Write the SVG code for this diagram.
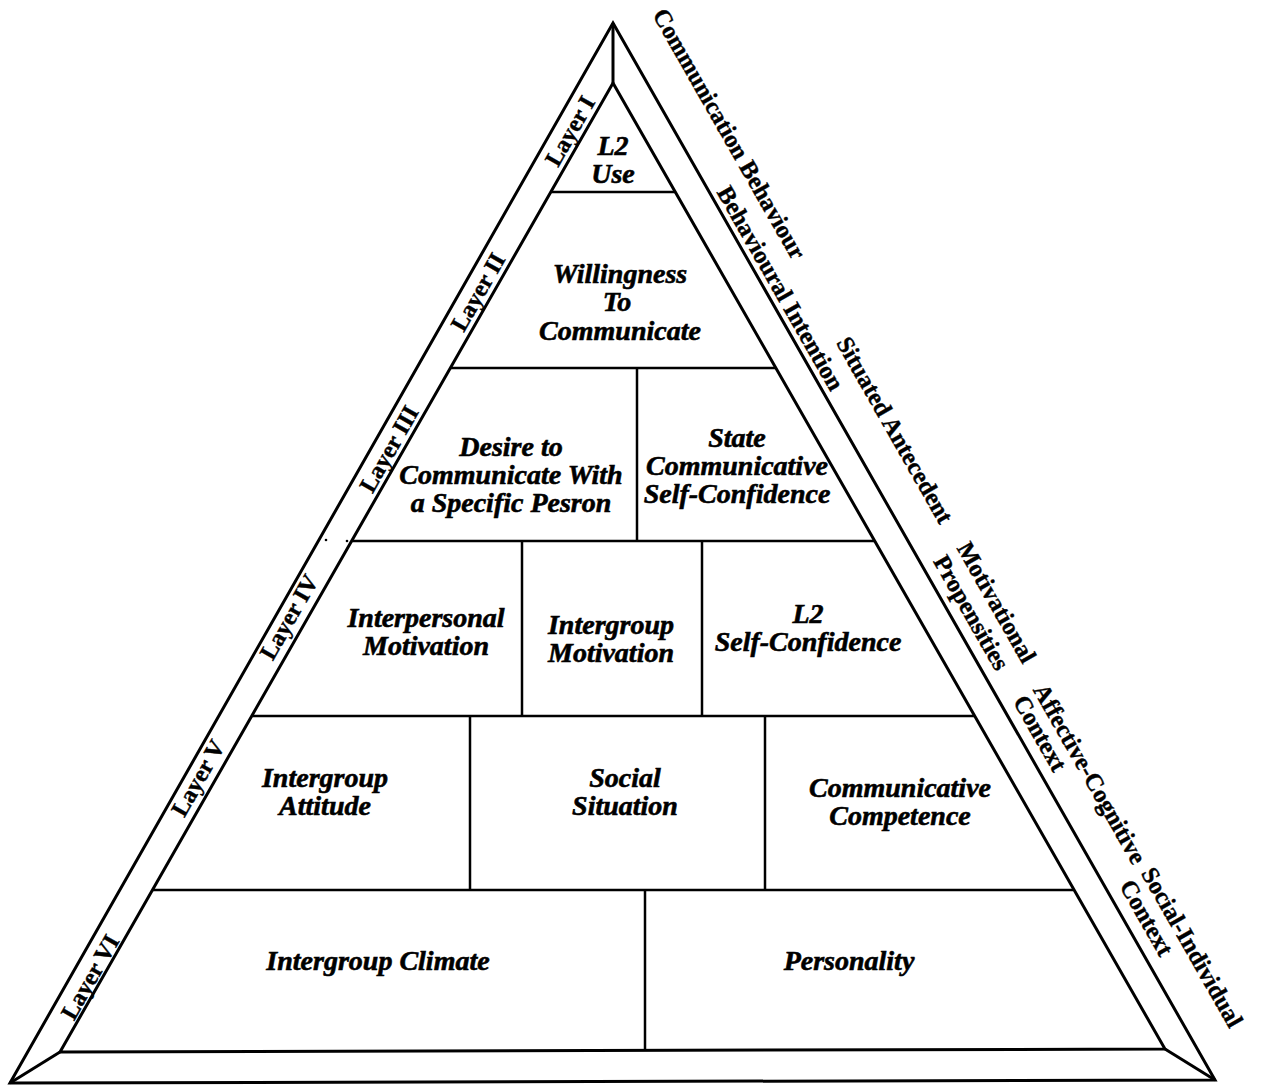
<svg xmlns="http://www.w3.org/2000/svg" width="1265" height="1086" viewBox="0 0 1265 1086">
  <style>
    .frame { fill: none; stroke: #000; stroke-width: 3; stroke-linejoin: miter; }
    .div { fill: none; stroke: #000; stroke-width: 2.5; }
    .node { font-family: "Liberation Serif", "Times New Roman", serif; font-weight: bold; font-style: italic; font-size: 28px; text-anchor: middle; fill: #000; stroke: #000; stroke-width: 0.6; }
    .layer { font-family: "Liberation Serif", "Times New Roman", serif; font-weight: bold; font-size: 24px; text-anchor: middle; fill: #000; stroke: #000; stroke-width: 0.4; }
    .side { font-family: "Liberation Serif", "Times New Roman", serif; font-weight: bold; font-size: 24.5px; text-anchor: start; fill: #000; stroke: #000; stroke-width: 0.4; }
  </style>
  <rect width="1265" height="1086" fill="#fff"/>

  <!-- pyramid frame: outer triangle, inner triangle and corner ties -->
  <g id="frame">
    <path class="frame" d="M613,23 L1215,1080 L10,1083 Z"/>
    <path class="frame" d="M613,83 L1165,1049 L60,1052 Z"/>
    <line class="frame" x1="613" y1="23" x2="613" y2="83"/>
    <line class="frame" x1="10" y1="1083" x2="60" y2="1052"/>
    <line class="frame" x1="1215" y1="1080" x2="1165" y2="1049"/>
  </g>

  <!-- layer boundaries and cell dividers -->
  <g id="connectors">
    <line class="div" x1="551" y1="192" x2="675" y2="192"/>
    <line class="div" x1="450" y1="368" x2="776" y2="368"/>
    <line class="div" x1="351" y1="541" x2="874" y2="541"/>
    <line class="div" x1="252" y1="716" x2="974" y2="716"/>
    <line class="div" x1="152" y1="890" x2="1073" y2="890"/>
    <line class="div" x1="637" y1="368" x2="637" y2="541"/>
    <line class="div" x1="522" y1="541" x2="522" y2="716"/>
    <line class="div" x1="702" y1="541" x2="702" y2="716"/>
    <line class="div" x1="470" y1="716" x2="470" y2="890"/>
    <line class="div" x1="765" y1="716" x2="765" y2="890"/>
    <line class="div" x1="645" y1="890" x2="645" y2="1051"/>
    <circle cx="326" cy="540" r="1.3" fill="#000"/>
    <circle cx="347" cy="541" r="1.3" fill="#000"/>
  </g>

  <!-- Layer I -->
  <g id="l2-use">
    <text class="node" x="613" y="155">L2</text>
    <text class="node" x="613" y="183">Use</text>
  </g>
  <!-- Layer II -->
  <g id="wtc">
    <text class="node" x="620" y="283">Willingness</text>
    <text class="node" x="617" y="311">To</text>
    <text class="node" x="620" y="340">Communicate</text>
  </g>
  <!-- Layer III -->
  <g id="desire">
    <text class="node" x="511" y="456">Desire to</text>
    <text class="node" x="511" y="484">Communicate With</text>
    <text class="node" x="511" y="512">a Specific Pesron</text>
  </g>
  <g id="state-confidence">
    <text class="node" x="737" y="447">State</text>
    <text class="node" x="737" y="475">Communicative</text>
    <text class="node" x="737" y="503">Self-Confidence</text>
  </g>
  <!-- Layer IV -->
  <g id="interpersonal-motivation">
    <text class="node" x="426" y="627">Interpersonal</text>
    <text class="node" x="426" y="655">Motivation</text>
  </g>
  <g id="intergroup-motivation">
    <text class="node" x="611" y="634">Intergroup</text>
    <text class="node" x="611" y="662">Motivation</text>
  </g>
  <g id="l2-self-confidence">
    <text class="node" x="808" y="623">L2</text>
    <text class="node" x="808" y="651">Self-Confidence</text>
  </g>
  <!-- Layer V -->
  <g id="intergroup-attitude">
    <text class="node" x="325" y="787">Intergroup</text>
    <text class="node" x="325" y="815">Attitude</text>
  </g>
  <g id="social-situation">
    <text class="node" x="625" y="787">Social</text>
    <text class="node" x="625" y="815">Situation</text>
  </g>
  <g id="communicative-competence">
    <text class="node" x="900" y="797">Communicative</text>
    <text class="node" x="900" y="825">Competence</text>
  </g>
  <!-- Layer VI -->
  <g id="intergroup-climate">
    <text class="node" x="378" y="970">Intergroup Climate</text>
  </g>
  <g id="personality">
    <text class="node" x="849" y="970">Personality</text>
  </g>

  <!-- layer names along the left band -->
  <g id="layer-labels">
    <text class="layer" transform="translate(570,131) rotate(-60.3)" y="8">Layer I</text>
    <text class="layer" transform="translate(478,292) rotate(-60.3)" y="8">Layer II</text>
    <text class="layer" transform="translate(389,449) rotate(-60.3)" y="8">Layer III</text>
    <text class="layer" transform="translate(289,617) rotate(-60.3)" y="8">Layer IV</text>
    <text class="layer" transform="translate(198,778) rotate(-60.3)" y="8">Layer V</text>
    <text class="layer" transform="translate(90,977) rotate(-60.3)" y="8">Layer VI</text>
  </g>

  <!-- category names outside the right edge, in the edge's own frame -->
  <g id="context-labels" transform="translate(613,23) rotate(60.3)">
    <text class="side" x="12" y="-38">Communication Behaviour</text>
    <text class="side" x="198" y="-6">Behavioural Intention</text>
    <text class="side" x="388" y="-35">Situated Antecedent</text>
    <text class="side" x="626" y="-38">Motivational</text>
    <text class="side" x="626" y="-11">Propensities</text>
    <text class="side" x="787" y="-34">Affective-Cognitive</text>
    <text class="side" x="787" y="-11">Context</text>
    <text class="side" x="1000" y="-37">Social-Individual</text>
    <text class="side" x="1000" y="-12">Context</text>
  </g>
</svg>
